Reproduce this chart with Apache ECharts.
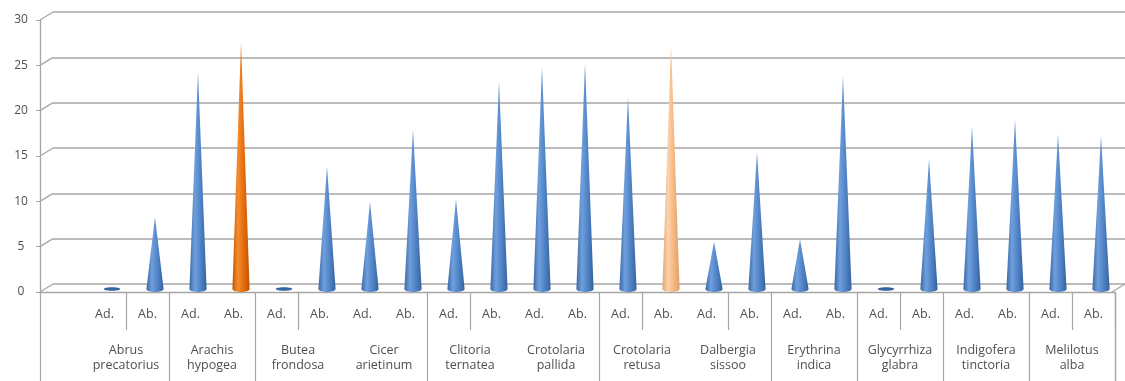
<!DOCTYPE html>
<html>
<head>
<meta charset="utf-8">
<script src="https://cdn.jsdelivr.net/npm/echarts@6/dist/echarts.min.js"></script>
<style>
  html, body { margin: 0; padding: 0; background: #ffffff; }
  #chart { width: 1125px; height: 381px; }
</style>
</head>
<body>
<div id="chart"></div>
<script>
// Stomatal counts per species, adaxial (Ad.) and abaxial (Ab.) leaf surfaces
const species = [
  'Abrus\nprecatorius', 'Arachis\nhypogea', 'Butea\nfrondosa', 'Cicer\narietinum',
  'Clitoria\nternatea', 'Crotolaria\npallida', 'Crotolaria\nretusa', 'Dalbergia\nsissoo',
  'Erythrina\nindica', 'Glycyrrhiza\nglabra', 'Indigofera\ntinctoria', 'Melilotus\nalba'
];
const surfaces = ['Ad.', 'Ab.'];
const adaxial = [0, 23.9, 0, 9.6, 9.9, 24.5, 21.2, 5.2, 5.5, 0, 17.9, 17.1];
const abaxial = [7.9, 27.2, 13.5, 17.6, 22.9, 24.9, 27.0, 15.1, 23.5, 14.3, 18.7, 16.9];
const yTicks = [0, 5, 10, 15, 20, 25, 30];

// One cone per surface, species by species
const coneCategories = [];
const coneData = [];
species.forEach(function (s, i) {
  coneCategories.push(s + ' ' + surfaces[0], s + ' ' + surfaces[1]);
  coneData.push([coneData.length, adaxial[i]]);
  coneData.push([coneData.length, abaxial[i]]);
});
// Label cells of the table under the floor: a leading blank cell, then Ad./Ab. pairs
const cellLabels = [''].concat(...species.map(function () { return surfaces; }));

// Cone colouring: highlighted cones get their own palette
const BLUE = ['#3a68a6', '#6f9fdc', '#5488cb', '#35629e'];
const ORANGE = ['#c45604', '#f68d30', '#e8700f', '#c25300'];
const PEACH = ['#e2a46e', '#fdd3ad', '#f7bb87', '#dfa068'];
const highlight = { 3: ORANGE, 13: PEACH };

function coneGradient(p) {
  return new echarts.graphic.LinearGradient(0, 0, 1, 0, [
    { offset: 0, color: p[0] },
    { offset: 0.32, color: p[1] },
    { offset: 0.6, color: p[2] },
    { offset: 1, color: p[3] }
  ]);
}

function renderCone(params, api) {
  const idx = api.value(0);
  const v = api.value(1);
  const base = api.coord([idx, 0]);
  const tip = api.coord([idx, v]);
  const band = api.size([1, 0])[0];
  const rx = band * 0.2;
  const ry = 3;
  const pal = highlight[params.dataIndex] || BLUE;
  const pts = [];
  if (v <= 0) {
    for (let k = 0; k < 24; k++) {
      const a = (k / 24) * Math.PI * 2;
      pts.push([base[0] + rx * 0.95 * Math.cos(a), base[1] + 1.8 * Math.sin(a)]);
    }
    return { type: 'polygon', shape: { points: pts }, style: { fill: '#35659f' } };
  }
  pts.push([base[0], tip[1]]);
  for (let k = 0; k <= 18; k++) {
    const a = (k / 18) * Math.PI;
    pts.push([base[0] + rx * Math.cos(a), base[1] + ry * Math.sin(a)]);
  }
  return { type: 'polygon', shape: { points: pts }, style: { fill: coneGradient(pal) } };
}

// Depth edges joining the back wall to the front frame (left side wall and floor end)
const DEPTH_X = 13, DEPTH_Y = 8;
function renderDepthEdge(params, api) {
  const back = api.coord([api.value(0), api.value(1)]);
  return {
    type: 'line',
    shape: { x1: back[0], y1: back[1], x2: back[0] - DEPTH_X, y2: back[1] + DEPTH_Y },
    style: { stroke: '#a6a6a6', lineWidth: 1.3 }
  };
}
const depthEdges = yTicks.map(function (t) { return [0, t]; }).concat([[1, 0]]);

const GRAY = '#a6a6a6';
const TEXT = '#505050';
const FONT = '"Open Sans", Lato, sans-serif';

const chart = echarts.init(document.getElementById('chart'), null, { renderer: 'canvas' });
chart.setOption({
  animation: false,
  backgroundColor: '#ffffff',
  grid: [
    { left: 53, right: -3, top: 12, bottom: 97 },     // back wall
    { left: 40, right: 10, top: 20, bottom: 89 },     // front value axis
    { left: 90.5, right: 2.5, top: 17, bottom: 92 },  // cones
    { left: 40, right: 10, top: 200, bottom: 89 },    // Ad./Ab. cells
    { left: 83, right: 10, top: 200, bottom: 89 }     // species groups
  ],
  xAxis: [
    { gridIndex: 0, type: 'value', min: 0, max: 1, show: false },
    { gridIndex: 1, type: 'value', min: 0, max: 1, show: false },
    { gridIndex: 2, type: 'category', data: coneCategories, show: false },
    {
      gridIndex: 3, type: 'category', data: cellLabels, position: 'bottom',
      axisLine: { show: true, lineStyle: { color: GRAY, width: 1.3 } },
      axisTick: {
        show: true, length: 38, lineStyle: { color: GRAY, width: 1.2 },
        interval: function (i) { return [2, 6, 10, 14, 16, 20, 24].indexOf(i) >= 0; }
      },
      axisLabel: { interval: 0, margin: 16, color: TEXT, fontSize: 12.5, fontFamily: FONT }
    },
    {
      gridIndex: 3, type: 'category', data: cellLabels, position: 'bottom',
      axisLine: { show: false },
      axisTick: {
        show: true, length: 89, lineStyle: { color: GRAY, width: 1.2 },
        interval: function (i) { return i === 0; }
      },
      axisLabel: { show: false }
    },
    {
      gridIndex: 4, type: 'category', data: species, position: 'bottom',
      axisLine: { show: false },
      axisTick: {
        show: true, length: 89, lineStyle: { color: GRAY, width: 1.2 },
        interval: function (i) { return [0, 3, 5, 7].indexOf(i) < 0; }
      },
      axisLabel: { interval: 0, margin: 51, color: TEXT, fontSize: 12.5, lineHeight: 15, fontFamily: FONT }
    }
  ],
  yAxis: [
    {
      gridIndex: 0, type: 'value', min: 0, max: 30, interval: 5,
      axisLine: { show: false }, axisTick: { show: false }, axisLabel: { show: false },
      splitLine: { show: true, lineStyle: { color: GRAY, width: 1.5 } }
    },
    {
      gridIndex: 1, type: 'value', min: 0, max: 30, interval: 5,
      axisLine: { show: true, lineStyle: { color: GRAY, width: 1.3 } },
      axisTick: { show: true, length: 4, lineStyle: { color: GRAY } },
      axisLabel: { margin: 19, align: 'center', color: TEXT, fontSize: 12, fontFamily: FONT },
      splitLine: { show: false }
    },
    { gridIndex: 2, type: 'value', min: 0, max: 30, show: false, splitLine: { show: false } },
    { gridIndex: 3, type: 'value', show: false, splitLine: { show: false } },
    { gridIndex: 4, type: 'value', show: false, splitLine: { show: false } }
  ],
  series: [
    {
      type: 'custom', xAxisIndex: 0, yAxisIndex: 0,
      renderItem: renderDepthEdge, data: depthEdges, silent: true, z: 2
    },
    {
      type: 'custom', name: 'Stomata', xAxisIndex: 2, yAxisIndex: 2,
      renderItem: renderCone, data: coneData, z: 5,
      encode: { x: 0, y: 1 }
    }
  ]
});
</script>
</body>
</html>
